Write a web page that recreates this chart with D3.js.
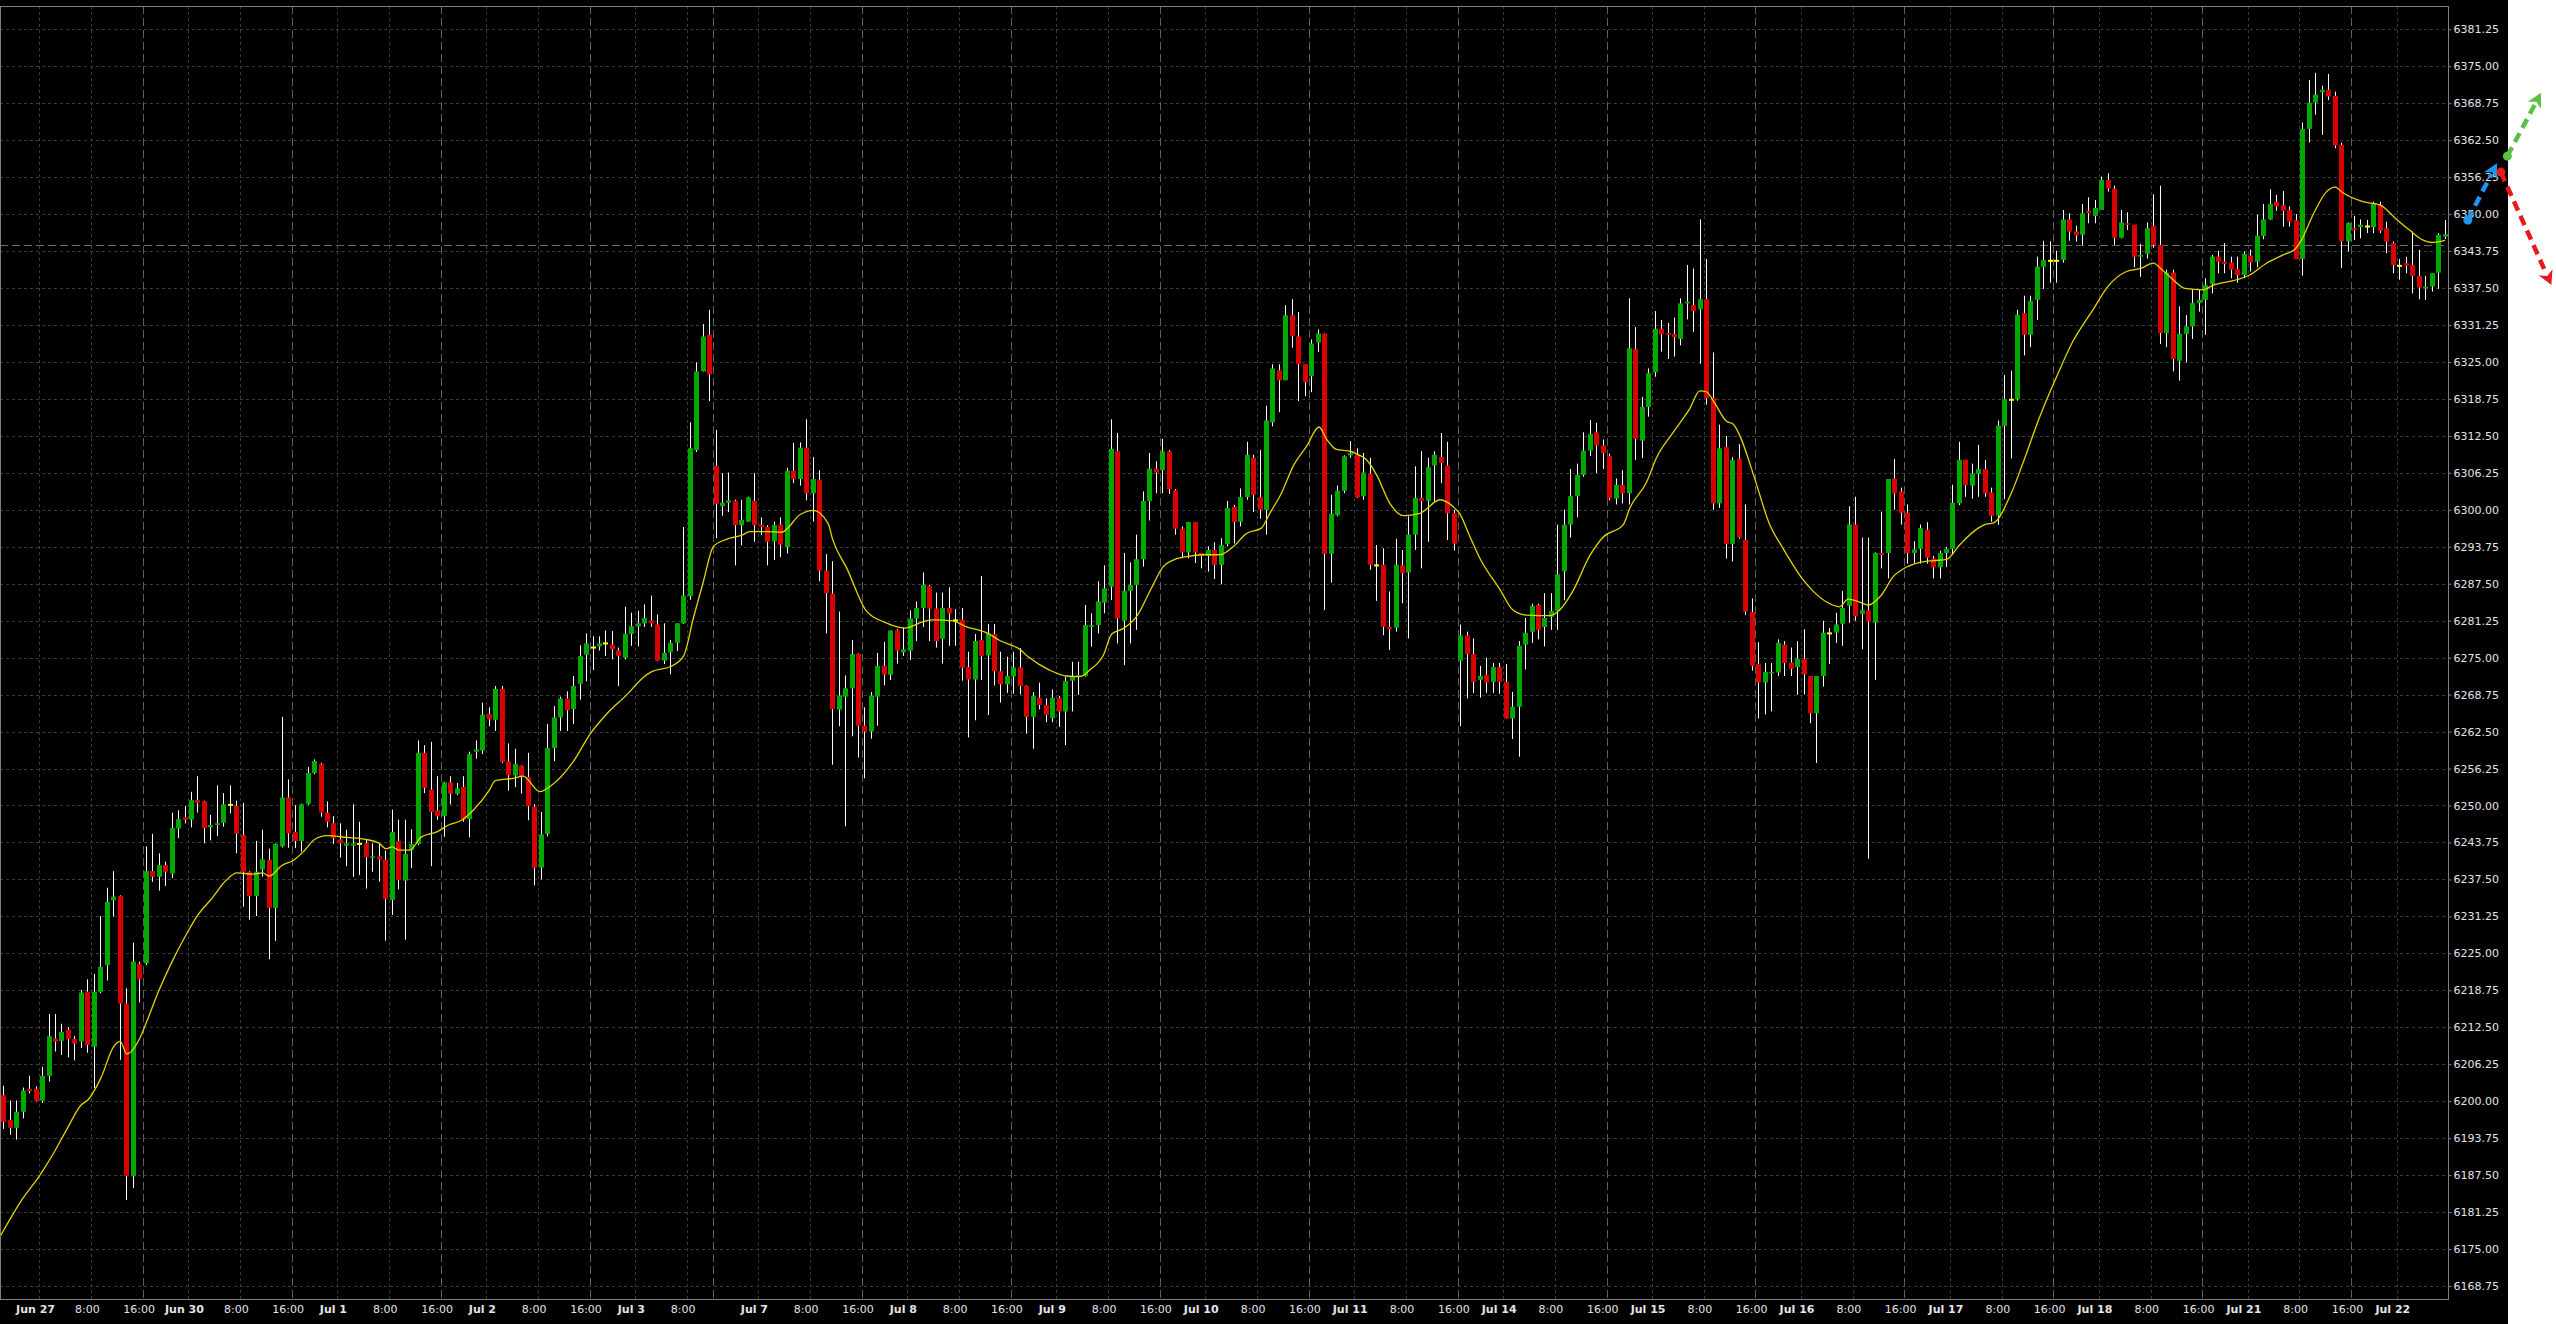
<!DOCTYPE html>
<html><head><meta charset="utf-8">
<script src="https://cdn.jsdelivr.net/npm/d3@7"></script>
<style>html,body{margin:0;padding:0;background:#fff;overflow:hidden}svg{display:block}</style>
</head><body>
<svg id="chart" width="2556" height="1324"></svg>
<script>
// ---------- DATA (hourly OHLC) ----------
const opens = [
6201.0,6196.8,6195.5,6198.2,6202.1,6202.1,6200.1,6204.3,6210.6,6210.2,
6212.1,6210.5,6210.1,6218.5,6209.2,6218.5,6223.0,6234.0,6234.7,6216.5,
6187.3,6223.2,6223.3,6238.9,6237.95,6239.9,6238.5,6246.1,6248.0,6247.6,
6250.9,6250.7,6246.3,6246.7,6247.1,6250.1,6249.9,6245.0,6238.8,6234.7,
6239.2,6240.8,6232.7,6243.1,6251.35,6245.55,6244.0,6250.3,6255.5,6257.0,
6248.8,6247.0,6244.25,6243.2,6243.2,6243.5,6243.6,6241.2,6241.4,6240.8,
6234.0,6244.0,6237.3,6242.45,6243.5,6258.9,6252.7,6249.2,6248.2,6253.9,
6252.0,6253.15,6247.7,6259.1,6259.3,6265.5,6264.5,6269.7,6257.5,6255.1,
6256.7,6254.8,6249.8,6239.5,6245.2,6259.7,6264.9,6268.1,6266.3,6270.6,
6275.5,6276.7,6276.9,6277.4,6277.2,6276.2,6275.0,6279.0,6280.3,6280.8,
6281.3,6280.6,6274.5,6275.9,6277.5,6280.8,6285.4,6310.1,6323.4,6329.6,
6307.4,6300.6,6301.2,6301.5,6297.4,6298.0,6301.5,6297.5,6297.1,6294.7,
6297.5,6293.7,6306.6,6305.2,6310.5,6302.8,6305.1,6289.7,6285.8,6266.2,
6268.4,6269.8,6275.6,6263.5,6262.5,6268.4,6273.6,6272.1,6279.6,6275.9,
6276.2,6281.6,6283.4,6287.1,6283.3,6278.2,6283.4,6281.3,6281.4,6273.4,
6271.3,6277.95,6275.4,6279.0,6272.7,6270.5,6271.8,6273.35,6270.2,6265.0,
6268.2,6267.0,6264.8,6268.2,6265.9,6271.1,6271.8,6271.9,6280.2,6280.5,
6284.3,6287.0,6309.9,6281.25,6286.3,6287.3,6291.65,6301.5,6306.95,6306.7,
6309.9,6303.3,6296.8,6292.8,6297.95,6292.7,6292.2,6293.2,6290.7,6294.2,
6300.5,6298.0,6302.15,6308.8,6302.15,6300.0,6314.8,6323.6,6321.9,6332.9,
6329.3,6324.6,6322.6,6328.3,6329.8,6292.55,6299.1,6303.2,6309.2,6309.3,
6302.3,6306.1,6290.6,6290.7,6280.2,6280.05,6290.6,6289.4,6295.8,6302.0,
6301.5,6307.5,6308.9,6307.5,6299.4,6274.5,6278.75,6275.6,6271.25,6272.1,
6270.9,6273.4,6270.9,6264.7,6266.7,6277.2,6279.4,6283.9,6280.2,6281.9,
6282.9,6289.6,6297.5,6302.3,6305.9,6310.0,6313.1,6310.9,6309.1,6301.9,
6304.2,6302.8,6327.2,6311.7,6317.4,6323.25,6330.6,6329.9,6329.7,6328.9,
6334.9,6334.6,6333.9,6335.6,6318.9,6301.1,6310.6,6294.25,6308.6,6294.9,
6282.7,6273.9,6270.8,6272.4,6272.5,6277.2,6274.2,6273.4,6274.8,6271.9,
6265.6,6271.9,6279.1,6279.25,6280.75,6283.75,6297.5,6282.4,6283.0,6280.9,
6292.7,6292.7,6305.3,6303.1,6299.5,6292.7,6293.4,6296.6,6291.75,6290.3,
6292.7,6293.4,6301.1,6308.45,6304.1,6306.1,6306.9,6302.95,6299.0,6314.2,
6318.6,6318.7,6333.25,6329.6,6335.5,6341.1,6342.1,6342.1,6342.25,6349.1,
6347.05,6346.5,6350.55,6349.7,6350.7,6355.8,6354.3,6346.0,6348.45,6348.2,
6342.8,6343.3,6348.0,6344.8,6329.9,6340.1,6325.2,6329.75,6331.0,6334.95,
6335.5,6338.2,6342.8,6341.95,6341.8,6340.7,6339.7,6343.0,6341.95,6346.3,
6349.1,6352.1,6351.55,6350.7,6349.0,6342.4,6364.4,6368.85,6370.6,6371.0,
6370.0,6361.7,6345.4,6347.6,6347.8,6347.9,6347.8,6351.55,6347.6,6345.1,
6341.25,6341.7,6341.4,6339.55,6337.4,6337.75,6340.1,6346.2];
const highs = [
6202.6,6200.1,6200.1,6202.3,6204.3,6202.5,6205.8,6214.75,6214.75,6213.1,
6212.5,6211.0,6218.8,6220.6,6221.5,6231.3,6236.1,6238.9,6234.8,6219.1,
6226.8,6223.6,6243.1,6245.2,6241.9,6240.5,6248.8,6249.2,6249.9,6252.3,
6254.95,6250.8,6248.4,6253.4,6252.1,6253.4,6250.8,6250.45,6238.9,6244.0,
6245.9,6242.7,6243.6,6265.0,6254.4,6250.05,6250.3,6256.5,6257.8,6257.2,
6250.7,6248.2,6247.0,6245.9,6250.2,6247.25,6244.15,6243.6,6243.6,6242.35,
6249.3,6247.6,6247.6,6245.95,6261.0,6260.2,6260.75,6254.95,6254.0,6254.95,
6253.8,6254.95,6259.1,6261.0,6267.4,6266.6,6270.2,6270.2,6260.5,6259.6,
6256.8,6258.9,6250.2,6248.9,6263.8,6266.8,6268.4,6269.3,6271.9,6277.1,
6279.1,6278.6,6278.6,6279.6,6279.5,6276.7,6283.6,6282.6,6282.9,6284.0,
6285.5,6282.3,6280.8,6278.0,6280.8,6297.1,6314.8,6324.9,6331.4,6333.8,
6313.5,6306.2,6306.3,6301.7,6301.7,6302.2,6306.2,6298.7,6297.4,6298.0,
6298.7,6307.1,6311.3,6311.4,6315.3,6308.9,6306.7,6292.5,6291.3,6282.8,
6272.0,6278.0,6275.7,6266.6,6269.2,6275.8,6277.7,6279.6,6279.8,6280.1,
6283.0,6284.5,6289.4,6287.3,6286.0,6286.0,6286.9,6283.2,6283.4,6276.0,
6279.0,6288.8,6280.7,6280.7,6276.0,6275.15,6276.0,6276.6,6270.3,6269.2,
6270.75,6268.1,6269.6,6268.5,6271.8,6274.3,6274.3,6283.9,6282.5,6287.9,
6290.6,6315.3,6313.0,6292.7,6291.1,6295.8,6303.1,6309.6,6308.2,6312.0,
6310.1,6303.5,6297.2,6297.95,6297.95,6292.7,6293.8,6294.5,6295.2,6301.5,
6300.85,6303.6,6311.5,6309.3,6310.1,6317.6,6324.6,6324.6,6334.6,6335.6,
6333.45,6324.6,6328.8,6330.5,6329.8,6302.55,6304.1,6309.2,6311.6,6310.4,
6309.6,6308.8,6294.05,6293.5,6286.2,6295.1,6293.2,6298.9,6307.35,6309.9,
6308.8,6309.9,6313.0,6311.5,6300.0,6280.6,6279.4,6278.25,6273.6,6275.0,
6274.1,6274.1,6273.9,6269.2,6277.8,6281.7,6284.1,6284.1,6285.9,6285.9,
6297.5,6300.0,6306.9,6307.8,6313.1,6315.2,6314.7,6311.9,6309.5,6305.3,
6306.7,6335.75,6330.9,6319.1,6323.9,6333.6,6332.1,6331.6,6332.5,6335.75,
6341.4,6340.8,6349.1,6342.4,6326.6,6314.4,6312.5,6308.9,6311.1,6300.9,
6285.0,6277.6,6274.1,6274.1,6278.1,6277.8,6276.7,6277.8,6279.8,6271.9,
6271.9,6281.25,6280.0,6282.6,6286.25,6300.6,6302.2,6295.3,6295.3,6292.8,
6299.7,6305.2,6308.6,6303.75,6300.9,6294.7,6297.5,6297.9,6292.2,6293.1,
6293.75,6304.25,6311.5,6308.45,6307.8,6311.0,6308.45,6303.75,6315.1,6322.8,
6323.5,6333.8,6336.2,6336.2,6342.8,6345.5,6345.4,6343.8,6350.7,6350.15,
6348.05,6351.7,6352.85,6352.4,6356.35,6356.9,6354.8,6350.7,6350.3,6348.2,
6344.95,6348.6,6353.35,6354.8,6340.6,6340.6,6334.4,6332.95,6337.2,6337.2,
6339.15,6343.1,6343.8,6345.1,6342.8,6342.8,6343.7,6344.0,6349.9,6351.7,
6354.2,6353.25,6353.9,6351.3,6350.0,6365.5,6372.7,6373.9,6371.7,6373.7,
6370.7,6362.1,6348.6,6349.7,6349.1,6349.0,6352.1,6352.1,6348.7,6345.35,
6342.4,6342.8,6347.05,6343.95,6339.55,6340.0,6346.75,6349.0];
const lows = [
6195.3,6194.3,6193.5,6197.1,6201.3,6200.0,6199.7,6203.3,6208.4,6207.8,
6207.4,6206.9,6209.0,6208.2,6202.2,6218.25,6220.4,6231.2,6207.0,6183.3,
6185.3,6216.7,6223.0,6237.1,6235.6,6236.4,6237.7,6244.5,6246.95,6246.3,
6248.8,6243.6,6244.1,6244.8,6246.4,6248.65,6241.9,6232.9,6230.7,6231.3,
6237.95,6224.0,6227.1,6242.9,6242.85,6242.8,6242.2,6250.1,6255.3,6248.1,
6246.3,6243.5,6241.2,6239.75,6237.95,6238.25,6235.95,6238.8,6237.1,6227.15,
6231.5,6235.8,6227.3,6239.4,6243.3,6252.1,6239.75,6247.6,6244.7,6250.2,
6251.75,6247.25,6244.6,6257.9,6258.7,6263.4,6262.6,6257.2,6252.5,6253.1,
6252.0,6247.5,6236.5,6237.5,6244.8,6257.5,6262.6,6262.6,6263.8,6267.9,
6271.0,6272.9,6276.2,6275.3,6274.7,6270.2,6274.7,6277.0,6276.9,6280.2,
6280.2,6274.4,6273.9,6272.2,6276.1,6280.7,6284.8,6309.8,6323.4,6318.4,
6295.2,6299.0,6299.6,6290.6,6294.0,6298.0,6294.6,6295.7,6290.6,6291.5,
6292.0,6292.6,6304.5,6304.1,6301.6,6298.0,6287.9,6279.1,6256.9,6263.4,
6246.5,6261.7,6258.1,6254.6,6261.3,6263.5,6270.3,6271.2,6274.0,6275.3,
6274.6,6277.8,6280.2,6277.8,6276.7,6274.0,6277.0,6277.0,6271.1,6261.5,
6264.4,6271.2,6265.3,6270.3,6267.4,6269.05,6268.9,6268.8,6262.15,6259.6,
6266.25,6264.1,6264.1,6263.3,6260.2,6265.9,6268.7,6271.8,6276.85,6279.1,
6282.5,6284.75,6277.4,6273.75,6277.4,6279.7,6290.4,6298.2,6302.8,6302.8,
6302.7,6295.8,6291.8,6291.8,6291.0,6290.1,6289.55,6288.3,6287.4,6293.8,
6294.3,6297.2,6301.7,6299.6,6298.5,6295.8,6314.1,6316.5,6321.9,6327.4,
6318.4,6319.2,6319.9,6326.7,6283.05,6287.7,6298.9,6302.8,6308.8,6302.0,
6301.7,6289.85,6284.6,6278.8,6276.3,6279.4,6284.2,6278.25,6293.2,6290.1,
6294.6,6301.4,6304.5,6294.9,6293.1,6263.4,6268.1,6269.05,6268.25,6269.05,
6269.05,6268.9,6264.7,6261.25,6258.25,6273.0,6277.5,6278.1,6276.9,6279.7,
6279.7,6284.7,6295.3,6298.75,6305.6,6309.1,6306.25,6306.9,6301.6,6300.9,
6301.1,6300.9,6308.4,6308.75,6315.75,6322.5,6326.75,6325.5,6325.9,6327.8,
6332.2,6330.1,6324.7,6317.8,6300.0,6300.3,6291.75,6291.25,6295.1,6282.2,
6272.8,6264.7,6265.4,6265.9,6271.9,6271.9,6271.9,6268.75,6268.75,6263.9,
6257.2,6270.1,6273.9,6277.5,6277.0,6280.9,6281.25,6276.4,6241.0,6271.25,
6290.1,6288.4,6300.0,6297.5,6290.9,6290.9,6290.9,6290.9,6288.4,6288.4,
6290.3,6292.5,6300.8,6302.2,6301.9,6302.2,6302.2,6298.0,6297.45,6301.8,
6308.7,6318.45,6326.1,6327.5,6332.1,6337.35,6338.4,6338.4,6341.8,6345.5,
6345.35,6344.8,6348.45,6348.45,6350.7,6353.8,6344.8,6345.9,6347.3,6341.0,
6339.4,6342.5,6344.35,6328.05,6327.5,6323.4,6321.85,6324.95,6328.9,6333.5,
6329.6,6336.6,6340.0,6340.0,6339.15,6338.4,6339.15,6340.3,6341.0,6345.75,
6349.0,6350.55,6347.9,6347.9,6342.4,6339.6,6362.1,6366.8,6363.4,6369.3,
6361.15,6340.85,6343.7,6345.6,6345.9,6346.8,6346.8,6346.8,6343.4,6340.0,
6338.9,6340.0,6336.6,6335.6,6335.5,6336.9,6337.35,6345.8];
const closes = [
6196.5,6195.5,6198.2,6201.8,6201.7,6200.1,6204.3,6211.0,6210.1,6211.7,
6210.5,6209.75,6218.35,6209.5,6218.5,6222.7,6233.7,6234.6,6216.5,6187.3,
6223.6,6220.6,6238.9,6237.95,6239.9,6238.8,6246.2,6247.7,6247.6,6250.9,
6250.45,6246.2,6246.7,6247.0,6250.2,6250.1,6245.25,6238.8,6234.7,6238.8,
6240.9,6232.7,6243.5,6251.35,6245.3,6244.0,6250.2,6255.5,6257.5,6248.8,
6247.25,6244.5,6243.6,6243.6,6243.6,6243.5,6241.3,6241.4,6240.9,6234.2,
6245.5,6237.4,6241.8,6243.5,6258.9,6253.0,6248.9,6248.2,6253.9,6252.0,
6252.9,6247.6,6258.7,6259.5,6265.35,6264.6,6269.7,6257.4,6255.1,6257.0,
6255.0,6249.9,6239.5,6245.1,6259.7,6264.9,6268.1,6266.1,6270.2,6275.3,
6277.4,6276.7,6277.4,6277.4,6276.4,6275.3,6279.0,6280.3,6280.8,6281.7,
6280.8,6274.5,6275.8,6277.5,6280.8,6285.5,6310.4,6323.4,6329.3,6322.9,
6301.0,6301.2,6301.6,6297.4,6298.3,6302.1,6297.4,6297.1,6294.6,6297.4,
6294.1,6306.6,6305.2,6310.5,6302.8,6305.2,6289.7,6285.9,6266.3,6268.6,
6269.8,6275.6,6263.5,6262.5,6268.6,6273.6,6272.1,6279.6,6276.2,6276.4,
6281.6,6283.4,6287.3,6283.3,6277.8,6283.4,6282.5,6281.3,6273.3,6271.3,
6277.8,6275.3,6279.1,6272.7,6270.5,6271.9,6273.35,6270.2,6265.0,6268.5,
6267.0,6265.3,6268.2,6265.9,6271.05,6271.8,6272.05,6280.5,6280.5,6284.5,
6286.7,6310.3,6281.65,6286.3,6287.3,6291.65,6301.5,6306.95,6306.3,6309.9,
6303.5,6296.8,6292.8,6297.95,6292.8,6292.2,6293.2,6290.7,6294.05,6300.3,
6297.95,6302.15,6309.3,6302.55,6300.0,6315.1,6323.9,6321.9,6332.9,6329.4,
6324.6,6321.6,6328.1,6329.8,6292.55,6299.3,6303.2,6309.05,6309.6,6302.1,
6306.3,6290.7,6290.6,6280.2,6279.8,6290.7,6289.3,6295.8,6302.0,6301.5,
6307.2,6309.3,6307.9,6299.4,6294.3,6278.75,6275.6,6270.9,6271.9,6270.8,
6273.4,6270.9,6264.7,6266.7,6277.0,6279.2,6283.75,6279.7,6281.7,6282.9,
6289.1,6297.5,6302.3,6305.9,6310.0,6312.8,6310.9,6309.6,6301.9,6304.2,
6302.8,6327.3,6312.0,6317.4,6323.1,6330.6,6329.7,6329.6,6329.2,6334.9,
6335.2,6333.6,6335.6,6318.9,6301.1,6310.4,6294.25,6308.4,6295.3,6282.8,
6273.6,6270.8,6272.6,6272.6,6277.5,6274.1,6273.1,6274.8,6272.2,6265.6,
6271.9,6279.2,6279.1,6280.6,6283.4,6297.5,6282.0,6283.0,6281.1,6292.7,
6292.4,6305.2,6302.8,6299.5,6292.7,6293.3,6296.9,6291.9,6290.3,6292.7,
6293.4,6301.2,6308.45,6304.2,6306.1,6306.9,6302.8,6299.0,6314.2,6318.7,
6318.6,6332.95,6329.6,6335.3,6341.1,6342.25,6342.1,6342.1,6349.1,6347.05,
6346.4,6350.15,6350.15,6351.05,6355.8,6354.3,6346.0,6348.6,6348.2,6342.8,
6343.1,6347.6,6344.8,6329.9,6340.1,6325.5,6329.75,6331.0,6334.95,6335.5,
6338.0,6342.8,6341.95,6341.6,6340.6,6339.7,6343.3,6341.8,6346.3,6349.1,
6351.7,6351.3,6350.55,6348.7,6342.4,6364.4,6368.85,6370.2,6371.0,6369.9,
6361.6,6345.4,6348.5,6347.3,6348.2,6347.9,6351.85,6347.2,6345.35,6341.4,
6341.25,6341.25,6339.55,6337.6,6337.75,6340.0,6346.5,6346.6];

// moving average (bar position, value)
const maBars = [-0.5,2.8,5.6,7.7,9.7,12,13,15,17,18,19,21,22,24,26,28,30,32,34.4,36,38.5,40,41,43,44.7,46.3,48,49.9,53,56,58,59,60,61,62.7,64.5,66.9,68.7,70.7,72.5,75,
75.9,78.7,80.2,82.8,84.4,88,90.5,93,96.2,98.8,100,103,105,106.5,108,109.6,111.6,114,115.2,117.8,120.1,123,125,127.3,128,130.2,133.2,136,139.2,142,143.5,146.6,148.7,150.7,
151.8,153.8,156.9,158.2,161.5,164.1,166.2,167.7,169.8,171.1,172.9,174.9,177.2,179.05,180.6,182.7,185.2,187.8,189.9,191.9,194.2,195.5,197.3,199.1,201.2,203.1,204.3,205.8,207.9,209.2,210.4,212,214.05,216.1,218.7,221.8,223.8,224.85,226.4,
227.9,231,233.1,235.1,238.7,240.3,242.3,244.9,247,250.1,251.1,253.7,255.2,257.8,260.4,261.9,262.9,264,266,267.05,268.1,270.1,272.7,274.8,277.9,279.4,281.5,283.5,284.8,286.6,287.9,289.95,291.8,293.3,295.9,297.9,300,302.05,
304.9,306.2,307.2,310,311.8,314.4,317,319.5,322.6,324.9,327.8,330.1,331.9,333.4,335,336.8,339.6,341.2,344.8,346.8,349.4,352,353.8,354.8,356.6,358.7,360,361.2,364.3,366.9,369.5,371.5,373.6,374.9,377];
const maValues = [6177.2,6183.3,6187.5,6191.2,6195.15,6199.4,6200.2,6203.9,6209.25,6210.1,6208.0,6210.6,6213.2,6218.8,6223.6,6227.8,6231.5,6234.1,6237.4,6238.6,6238.4,6238.6,6238.05,6239.9,6240.7,6242.2,6244.25,6244.9,6244.6,6244.25,6243.6,6242.7,6243.0,6242.45,6242.45,6244.7,6245.55,6246.7,6247.5,6249.2,6252.6,
6254.2,6254.6,6254.95,6252.35,6253.25,6257.5,6262.0,6265.35,6268.7,6271.7,6272.6,6273.5,6275.3,6281.7,6287.7,6293.8,6295.0,6295.7,6296.3,6296.3,6296.2,6299.2,6299.9,6297.7,6295.0,6290.1,6282.9,6281.0,6280.0,6281.1,6281.4,6281.2,6280.2,6279.6,
6279.2,6277.9,6276.4,6275.15,6272.9,6271.9,6271.8,6272.9,6275.4,6279.0,6279.95,6281.9,6286.7,6290.4,6291.5,6292.1,6292.4,6292.4,6293.8,6296.0,6296.9,6299.4,6302.8,6307.35,6310.75,6314.0,6311.9,6310.2,6309.9,6309.3,6308.5,6305.9,6301.1,6299.0,6299.4,6301.7,6300.55,6299.3,6295.5,
6291.9,6286.6,6283.0,6282.2,6282.1,6283.1,6286.25,6292.2,6295.4,6297.5,6300.3,6304.7,6308.75,6313.1,6317.2,6320.1,6320.0,6318.4,6315.0,6314.5,6312.5,6306.25,6297.5,6293.4,6288.1,6286.25,6284.4,6283.6,6284.9,6284.4,6283.9,6285.6,6288.75,6290.0,6291.1,6291.4,6291.6,6294.1,
6296.9,6297.6,6297.75,6302.8,6307.9,6315.75,6322.5,6328.45,6333.8,6337.75,6340.3,6340.85,6341.7,6340.45,6338.9,6337.45,6337.2,6338.0,6338.9,6339.7,6341.7,6343.1,6344.05,6345.6,6349.9,6353.8,6354.55,6353.6,6352.1,6351.55,6349.1,6347.3,6345.6,6345.2,6345.55];

const yTickLabels = ["6168.75","6175.00","6181.25","6187.50","6193.75","6200.00","6206.25","6212.50","6218.75","6225.00",
"6231.25","6237.50","6243.75","6250.00","6256.25","6262.50","6268.75","6275.00","6281.25","6287.50",
"6293.75","6300.00","6306.25","6312.50","6318.75","6325.00","6331.25","6337.50","6343.75","6350.00",
"6356.25","6362.50","6368.75","6375.00","6381.25"];
const xTickLabels = ["Jun 27","8:00","16:00","Jun 30","8:00","16:00","Jul 1","8:00","16:00","Jul 2","8:00","16:00","Jul 3","8:00",
"Jul 7","8:00","16:00","Jul 8","8:00","16:00","Jul 9","8:00","16:00","Jul 10","8:00","16:00","Jul 11","8:00","16:00",
"Jul 14","8:00","16:00","Jul 15","8:00","16:00","Jul 16","8:00","16:00","Jul 17","8:00","16:00","Jul 18","8:00","16:00",
"Jul 21","8:00","16:00","Jul 22"];
const xTickBars = [6,14,22,29,37,45,52,60,68,75,83,91,98,106,
117,125,133,140,148,156,163,171,179,186,194,202,209,217,225,
232,240,248,255,263,271,278,286,294,301,309,317,324,332,340,
347,355,363,370];
const sessionBars = [22,45,68,91,110,133,156,179,202,225,248,271,294,317,340,363];
const priceLine = 6344.75;
const arrows = [
  {color:"#1e96f0", from:[380.5,6349.0], to:[385.0,6358.6]},
  {color:"#5cbf44", from:[386.6,6359.8], to:[391.8,6370.5]},
  {color:"#e8191a", from:[385.6,6357.1], to:[393.4,6338.0]}
];

// ---------- DRAW ----------
const svg = d3.select("#chart");
const P = {left:0, right:2449, top:6, bottom:1299};
svg.append("rect").attr("x",0).attr("y",0).attr("width",2508).attr("height",1324).attr("fill","#000");

const n = closes.length;
const x = d3.scaleBand().domain(d3.range(n)).range([0.44, 2448.4]).paddingInner(0).paddingOuter(0);
const step = x.step();
const xc = d3.scaleLinear().domain([0, n-1]).range([x(0)+step/2, x(n-1)+step/2]);
const y = d3.scaleLinear().domain([6166.55, 6385.19]).range([P.bottom, P.top]);

svg.append("clipPath").attr("id","plotclip").append("rect")
  .attr("x",P.left).attr("y",P.top).attr("width",P.right-P.left).attr("height",P.bottom-P.top);

const grid = svg.append("g");
const yVals = yTickLabels.map(Number);
grid.selectAll("line.h").data(yVals).join("line")
  .attr("x1",P.left).attr("x2",P.right)
  .attr("y1",d=>Math.round(y(d))+0.5).attr("y2",d=>Math.round(y(d))+0.5)
  .attr("stroke","#3a3a3a").attr("stroke-dasharray","3,3");
grid.selectAll("line.v").data(xTickBars.filter(b=>!sessionBars.includes(b))).join("line")
  .attr("x1",d=>Math.round(x(d))+0.5).attr("x2",d=>Math.round(x(d))+0.5)
  .attr("y1",P.top).attr("y2",P.bottom)
  .attr("stroke","#3a3a3a").attr("stroke-dasharray","3,3");
grid.selectAll("line.s").data(sessionBars).join("line")
  .attr("x1",d=>Math.round(x(d))+0.5).attr("x2",d=>Math.round(x(d))+0.5)
  .attr("y1",P.top).attr("y2",P.bottom)
  .attr("stroke","#5e5e5e").attr("stroke-dasharray","8,4");

// price line
svg.append("line").attr("x1",P.left).attr("x2",P.right)
  .attr("y1",Math.round(y(priceLine))+0.5).attr("y2",Math.round(y(priceLine))+0.5)
  .attr("stroke","#6a6a6a").attr("stroke-dasharray","8,4");

const plot = svg.append("g").attr("clip-path","url(#plotclip)");
const bars = d3.range(n).map(i=>({i,o:opens[i],h:highs[i],l:lows[i],c:closes[i]}));
const bx = d => Math.round(x(d.i)+step/2-2.5);
plot.selectAll("line.wick").data(bars).join("line")
  .attr("x1",d=>bx(d)+2.5).attr("x2",d=>bx(d)+2.5)
  .attr("y1",d=>y(d.h)).attr("y2",d=>y(d.l))
  .attr("stroke","#fff").attr("stroke-width",1);
plot.selectAll("rect.body").data(bars).join("rect")
  .attr("x",bx).attr("width",5)
  .attr("y",d=> d.o===d.c ? y(d.o)-1 : y(Math.max(d.o,d.c)))
  .attr("height",d=> d.o===d.c ? 2 : Math.max(1.5, y(Math.min(d.o,d.c))-y(Math.max(d.o,d.c))))
  .attr("fill",d=> d.c>d.o ? "#00a800" : (d.c<d.o ? "#d80000" : "#ffff00"));

const maLine = d3.line().x((d,i)=>xc(maBars[i])).y(d=>y(d)).curve(d3.curveMonotoneX);
plot.append("path").attr("d",maLine(maValues)).attr("fill","none")
  .attr("stroke","#e3d400").attr("stroke-width",1.3);

// border
svg.append("rect").attr("x",P.left+0.5).attr("y",P.top+0.5)
  .attr("width",P.right-P.left-1).attr("height",P.bottom-P.top)
  .attr("fill","none").attr("stroke","#808080");

// axes
const yAxis = d3.axisRight(y).tickValues(yVals).tickFormat((d,i)=>yTickLabels[i]).tickSize(3).tickPadding(2);
const gy = svg.append("g").attr("transform",`translate(${P.right-0.5},0)`).call(yAxis);
gy.select(".domain").remove();
gy.selectAll(".tick line").attr("stroke","#808080");
gy.selectAll("text").attr("fill","#e4e4e4").style("font-family","'DejaVu Sans'").style("font-size","11px");

const xAxis = d3.axisBottom(x).tickValues(xTickBars).tickFormat((d,i)=>xTickLabels[i]).tickSize(0).tickPadding(6);
const gx = svg.append("g").attr("transform",`translate(0,${P.bottom})`).call(xAxis);
gx.select(".domain").remove();
gx.selectAll("text").attr("fill","#e4e4e4").attr("dx",-7)
  .style("font-family","'DejaVu Sans'").style("font-size","11px")
  .style("font-weight",(d,i)=> xTickLabels[i].includes(":") ? "normal" : "bold");

// arrows
const ag = svg.append("g");
arrows.forEach(a=>{
  const x1=xc(a.from[0]), y1=y(a.from[1]), x2=xc(a.to[0]), y2=y(a.to[1]);
  const dx=x2-x1, dy=y2-y1, L=Math.hypot(dx,dy), ux=dx/L, uy=dy/L;
  const hl=14, hw=7.5;
  const bxp=x2-ux*hl, byp=y2-uy*hl;
  ag.append("line").attr("x1",x1).attr("y1",y1).attr("x2",bxp+ux*2).attr("y2",byp+uy*2)
    .attr("stroke",a.color).attr("stroke-width",4.5).attr("stroke-dasharray","10,6");
  ag.append("circle").attr("cx",x1).attr("cy",y1).attr("r",4.5).attr("fill",a.color);
  ag.append("polygon").attr("points",[[x2,y2],[bxp-uy*hw,byp+ux*hw],[bxp+ux*4,byp+uy*4],[bxp+uy*hw,byp-ux*hw]].map(p=>p.join(",")).join(" "))
    .attr("fill",a.color);
});
</script>
</body></html>
